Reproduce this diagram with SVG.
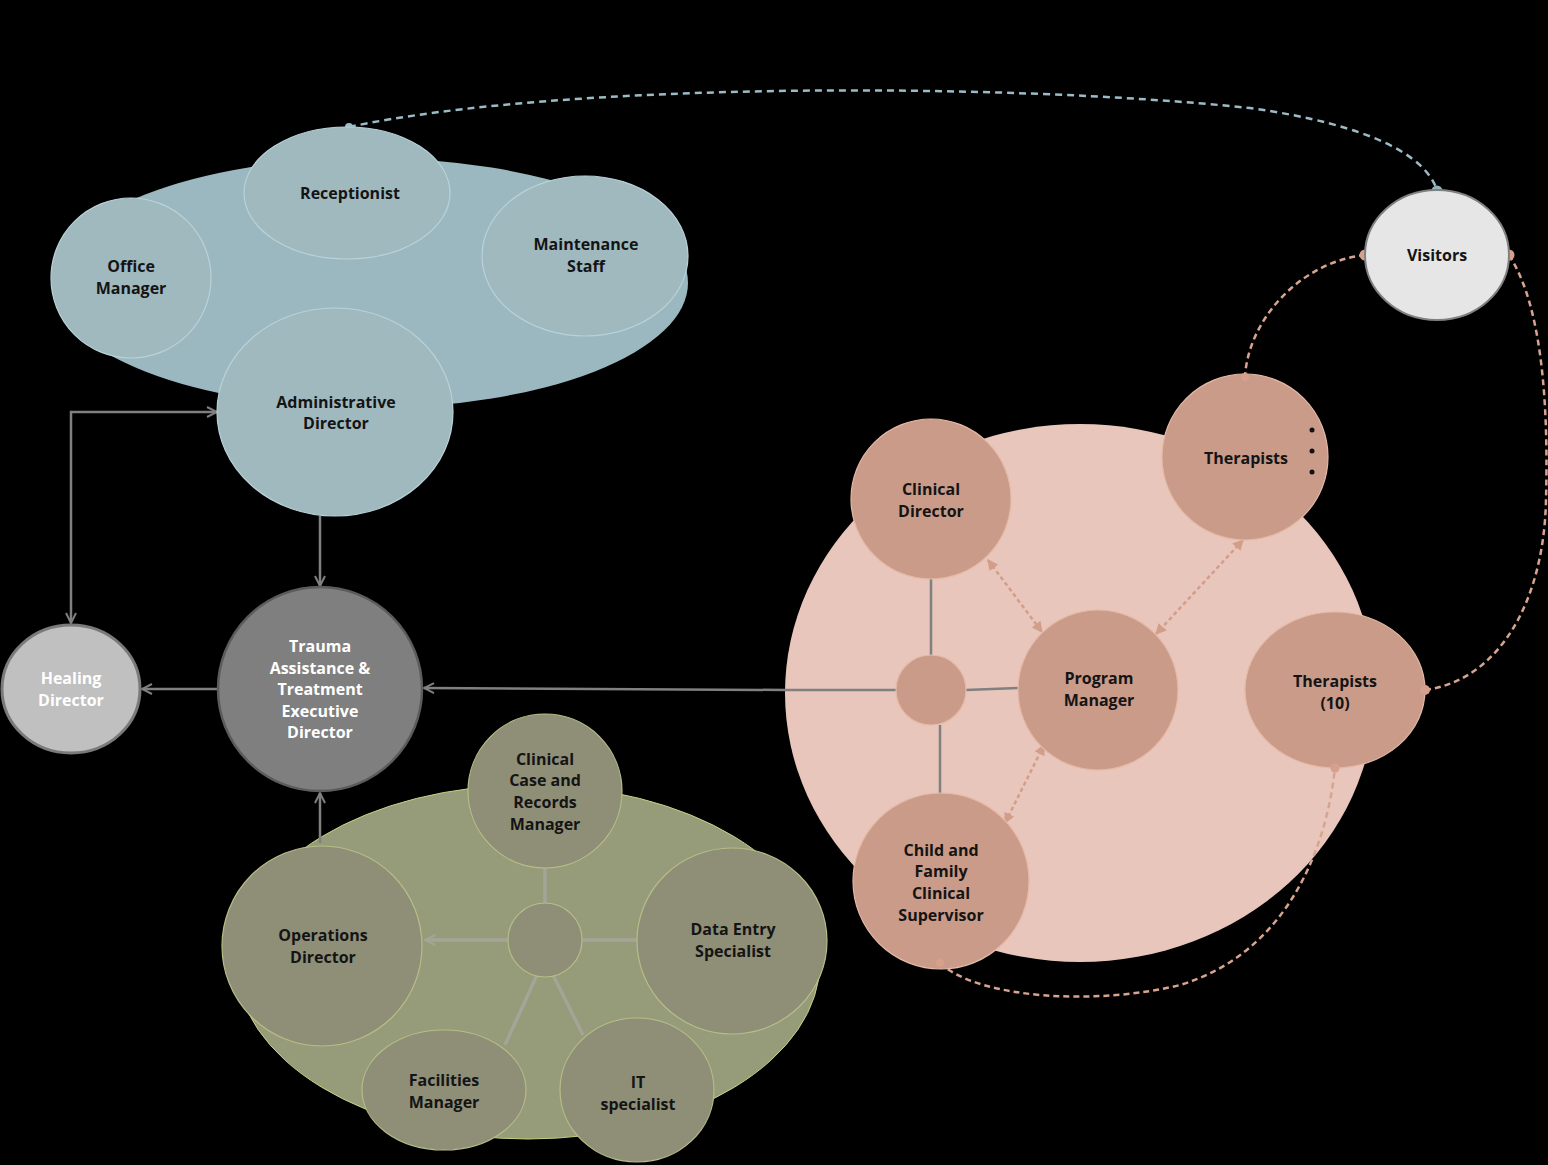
<svg xmlns="http://www.w3.org/2000/svg" width="1548" height="1165" viewBox="0 0 1548 1165">
<defs>
<style>
text{font-family:"Open Sans","Noto Sans","Liberation Sans",sans-serif;font-weight:700;font-size:16px;text-anchor:middle;fill:#141414}
.w{fill:#ffffff}
.blue{fill:#a0b9bf;stroke:#b9d2d8;stroke-width:1.2}
.pink{fill:#c99b88;stroke:#e4b9a6;stroke-width:1.2}
.green{fill:#8f8f78;stroke:#b7bd86;stroke-width:1.2}
.gl{stroke:#808080;stroke-width:2.5;fill:none}
.gg{stroke:#a5a597;stroke-width:3.5;fill:none}
.pd{stroke:#d8a490;stroke-width:2.5;fill:none;stroke-dasharray:6 4}
.pa{stroke:#d39d89;stroke-width:2.5;fill:none;stroke-dasharray:4 3}
.bd{stroke:#9bbcc6;stroke-width:2.5;fill:none;stroke-dasharray:7 5}
</style>
<marker id="ah" viewBox="0 0 12 12" refX="11" refY="6" markerWidth="12" markerHeight="12" markerUnits="userSpaceOnUse" orient="auto-start-reverse">
<path d="M1,1 L11,6 L1,11" fill="none" stroke="#808080" stroke-width="2"/>
</marker>
<marker id="gah" viewBox="0 0 12 12" refX="11" refY="6" markerWidth="12" markerHeight="12" markerUnits="userSpaceOnUse" orient="auto-start-reverse">
<path d="M1,1 L11,6 L1,11" fill="none" stroke="#a5a597" stroke-width="2"/>
</marker>
<marker id="pah" viewBox="0 0 10 10" refX="9" refY="5" markerWidth="11" markerHeight="11" markerUnits="userSpaceOnUse" orient="auto-start-reverse">
<path d="M0,0 L10,5 L0,10 z" fill="#d39d89"/>
</marker>
</defs>
<rect width="1548" height="1165" fill="#000"/>

<g id="blue-cluster">
<ellipse cx="370" cy="283" rx="318" ry="125" fill="#9bb8c1"/>
</g>
<g id="pink-cluster">
<ellipse cx="1080" cy="693" rx="295" ry="269" fill="#e8c6bb"/>
</g>
<g id="green-cluster">
<ellipse cx="528" cy="962" rx="292" ry="177" fill="#969b7a" stroke="#c9d081" stroke-width="1"/>
</g>

<g id="connectors">
<path class="bd" d="M349,127 C560,82 1000,82 1250,108 C1370,125 1425,155 1437,190"/>
<circle cx="349" cy="127" r="4" fill="#9bbcc6"/>
<circle cx="1437" cy="191" r="5.5" fill="#8fb3bf"/>
<path class="pd" d="M1365,255 C1300,262 1248,320 1245,377"/>
<path class="pd" d="M1509,255 C1545,310 1548,420 1546,500 C1544,600 1500,680 1425,690"/>
<path class="pd" d="M940,963 C980,1000 1100,1005 1180,985 C1280,955 1325,860 1335,768"/>
<circle cx="1365" cy="255" r="5.5" fill="#d6a08d"/>
<circle cx="1509" cy="255" r="5.5" fill="#d6a08d"/>
<path class="gl" d="M320,516 V586" marker-end="url(#ah)"/>
<path class="gl" d="M218,689 H142" marker-end="url(#ah)"/>
<path class="gl" d="M71,623 V412 H217" marker-start="url(#ah)" marker-end="url(#ah)"/>
<path class="gl" d="M320,843 V793" marker-end="url(#ah)"/>
<path class="gl" d="M896,690 L785,690 L424,688" marker-end="url(#ah)"/>
<path class="gl" d="M931,578 V655"/>
<path class="gl" d="M940,725 V802"/>
<path class="gl" d="M966,690 L1019,688"/>
<path class="pa" d="M988,560 L1042,632" marker-start="url(#pah)" marker-end="url(#pah)"/>
<path class="pa" d="M1243,540 L1156,634" marker-start="url(#pah)" marker-end="url(#pah)"/>
<path class="pa" d="M1005,823 L1044,745" marker-start="url(#pah)" marker-end="url(#pah)"/>
<path class="gg" d="M545,860 V903"/>
<path class="gg" d="M508,940 H425" marker-end="url(#gah)"/>
<path class="gg" d="M582,940 H638"/>
<path class="gg" d="M537,975 L505,1045"/>
<path class="gg" d="M553,975 L583,1035"/>
</g>

<g id="office-manager"><circle class="blue" cx="131" cy="278" r="80"/><text x="131" y="272">Office</text><text x="131" y="294">Manager</text></g>
<g id="receptionist"><ellipse class="blue" cx="347" cy="193" rx="103" ry="66"/><text x="350" y="199">Receptionist</text></g>
<g id="maintenance-staff"><ellipse class="blue" cx="585" cy="256" rx="103" ry="80"/><text x="586" y="250">Maintenance</text><text x="586" y="272">Staff</text></g>
<g id="administrative-director"><ellipse class="blue" cx="335" cy="412" rx="118" ry="104"/><text x="336" y="408">Administrative</text><text x="336" y="429">Director</text></g>

<g id="healing-director"><ellipse cx="71" cy="689" rx="69" ry="64" fill="#c0c0c0" stroke="#7a7a7a" stroke-width="3"/><text class="w" x="71" y="684">Healing</text><text class="w" x="71" y="706">Director</text></g>
<g id="trauma-director"><circle cx="320" cy="689" r="102" fill="#7f7f7f" stroke="#5c5c5c" stroke-width="2.5"/>
<text class="w" x="320" y="652">Trauma</text><text class="w" x="320" y="674">Assistance &amp;</text><text class="w" x="320" y="695">Treatment</text><text class="w" x="320" y="717">Executive</text><text class="w" x="320" y="738">Director</text></g>

<g id="visitors"><ellipse cx="1437" cy="255" rx="72" ry="65" fill="#e6e6e6" stroke="#808080" stroke-width="2"/><text x="1437" y="261">Visitors</text></g>

<g id="clinical-director"><circle class="pink" cx="931" cy="499" r="80"/><text x="931" y="495">Clinical</text><text x="931" y="517">Director</text></g>
<g id="therapists"><circle class="pink" cx="1245" cy="457" r="83"/><text x="1246" y="464">Therapists</text>
<circle cx="1312" cy="430" r="2.5" fill="#111"/><circle cx="1312" cy="451" r="2.5" fill="#111"/><circle cx="1312" cy="472" r="2.5" fill="#111"/>
<circle cx="1245" cy="377" r="4" fill="#d6a08d"/></g>
<g id="pink-hub"><circle class="pink" cx="931" cy="690" r="35"/></g>
<g id="program-manager"><circle class="pink" cx="1098" cy="690" r="80"/><text x="1099" y="684">Program</text><text x="1099" y="706">Manager</text></g>
<g id="therapists-10"><ellipse class="pink" cx="1335" cy="690" rx="90" ry="78"/><text x="1335" y="687">Therapists</text><text x="1335" y="709">(10)</text>
<circle cx="1425" cy="690" r="5" fill="#d6a08d"/><circle cx="1335" cy="768" r="4.5" fill="#d6a08d"/></g>
<g id="child-family-supervisor"><circle class="pink" cx="941" cy="881" r="88"/><text x="941" y="856">Child and</text><text x="941" y="877">Family</text><text x="941" y="899">Clinical</text><text x="941" y="921">Supervisor</text>
<circle cx="940" cy="963" r="4" fill="#d6a08d"/></g>

<g id="operations-director"><circle class="green" cx="322" cy="946" r="100"/><text x="323" y="941">Operations</text><text x="323" y="963">Director</text></g>
<g id="clinical-case-records-manager"><circle class="green" cx="545" cy="791" r="77"/><text x="545" y="765">Clinical</text><text x="545" y="786">Case and</text><text x="545" y="808">Records</text><text x="545" y="830">Manager</text></g>
<g id="data-entry-specialist"><ellipse class="green" cx="732" cy="941" rx="95" ry="93"/><text x="733" y="935">Data Entry</text><text x="733" y="957">Specialist</text></g>
<g id="facilities-manager"><ellipse class="green" cx="444" cy="1090" rx="82" ry="60"/><text x="444" y="1086">Facilities</text><text x="444" y="1108">Manager</text></g>
<g id="it-specialist"><ellipse class="green" cx="637" cy="1090" rx="77" ry="72"/><text x="638" y="1088">IT</text><text x="638" y="1110">specialist</text></g>
<g id="green-hub"><circle class="green" cx="545" cy="940" r="37"/></g>
</svg>
